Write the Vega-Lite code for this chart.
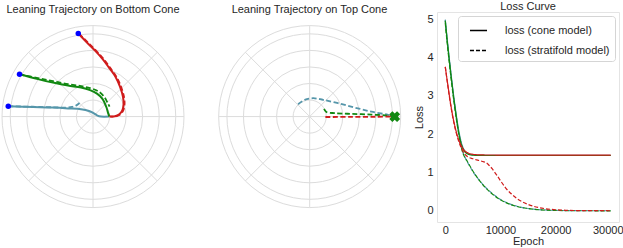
{
"$schema":"https://vega.github.io/schema/vega-lite/v6.json",
"padding":0,
"spacing":0,
"bounds":"flush",
"config":{"font":"Liberation Sans","view":{"stroke":null},
 "title":{"fontSize":11,"fontWeight":"normal","color":"#262626","font":"Liberation Sans"},
 "axis":{"domain":false,"ticks":false,"grid":false,"labelFontSize":11,"labelColor":"#262626","titleFontSize":11,"titleFontWeight":"normal","titleColor":"#262626","labelFont":"Liberation Sans","titleFont":"Liberation Sans"},
 "axisX":{"labelPadding":2,"titlePadding":0},
 "axisY":{"labelPadding":4,"titlePadding":2}
},
"datasets":{
 "rings":[{"r":0.2},{"r":0.4},{"r":0.6},{"r":0.8},{"r":1.0},{"r":1.1}],
 "spokes":[{"x":-1.1,"y":0,"x2":1.1,"y2":0},{"x":0,"y":-1.1,"x2":0,"y2":1.1},{"x":-0.778,"y":-0.778,"x2":0.778,"y2":0.778},{"x":-0.778,"y":0.778,"x2":0.778,"y2":-0.778}],
 "starts":[{"x":-0.178,"y":1.004},{"x":-0.888,"y":0.511},{"x":-1.024,"y":0.125}],
 "target":[{"x":1.028,"y":0}],
 "bottom":[
  {"p":"p3","m":"cone","i":0,"x":-1.024,"y":0.125},{"p":"p3","m":"cone","i":1,"x":-0.726,"y":0.116},{"p":"p3","m":"cone","i":2,"x":-0.492,"y":0.109},{"p":"p3","m":"cone","i":3,"x":-0.302,"y":0.099},{"p":"p3","m":"cone","i":4,"x":-0.145,"y":0.088},{"p":"p3","m":"cone","i":5,"x":-0.048,"y":0.067},{"p":"p3","m":"cone","i":6,"x":0.012,"y":0.040},{"p":"p3","m":"cone","i":7,"x":0.054,"y":0.012},{"p":"p3","m":"cone","i":8,"x":0.097,"y":0},{"p":"p3","m":"cone","i":9,"x":0.193,"y":0},
  {"p":"p3","m":"strat","i":0,"x":-1.024,"y":0.125},{"p":"p3","m":"strat","i":1,"x":-0.726,"y":0.119},{"p":"p3","m":"strat","i":2,"x":-0.484,"y":0.112},{"p":"p3","m":"strat","i":3,"x":-0.339,"y":0.109},{"p":"p3","m":"strat","i":4,"x":-0.254,"y":0.116},{"p":"p3","m":"strat","i":5,"x":-0.206,"y":0.133},{"p":"p3","m":"strat","i":6,"x":-0.162,"y":0.164},
  {"p":"p2","m":"cone","i":0,"x":-0.888,"y":0.511},{"p":"p2","m":"cone","i":1,"x":-0.665,"y":0.453},{"p":"p2","m":"cone","i":2,"x":-0.484,"y":0.411},{"p":"p2","m":"cone","i":3,"x":-0.302,"y":0.375},{"p":"p2","m":"cone","i":4,"x":-0.145,"y":0.351},{"p":"p2","m":"cone","i":5,"x":-0.036,"y":0.320},{"p":"p2","m":"cone","i":6,"x":0.048,"y":0.278},{"p":"p2","m":"cone","i":7,"x":0.112,"y":0.218},{"p":"p2","m":"cone","i":8,"x":0.161,"y":0.116},{"p":"p2","m":"cone","i":9,"x":0.185,"y":0.036},{"p":"p2","m":"cone","i":10,"x":0.2,"y":0},
  {"p":"p2","m":"strat","i":0,"x":-0.888,"y":0.511},{"p":"p2","m":"strat","i":1,"x":-0.665,"y":0.466},{"p":"p2","m":"strat","i":2,"x":-0.484,"y":0.429},{"p":"p2","m":"strat","i":3,"x":-0.302,"y":0.393},{"p":"p2","m":"strat","i":4,"x":-0.145,"y":0.369},{"p":"p2","m":"strat","i":5,"x":-0.036,"y":0.345},{"p":"p2","m":"strat","i":6,"x":0.060,"y":0.308},{"p":"p2","m":"strat","i":7,"x":0.133,"y":0.242},{"p":"p2","m":"strat","i":8,"x":0.181,"y":0.157},{"p":"p2","m":"strat","i":9,"x":0.2,"y":0.121},
  {"p":"p1","m":"cone","i":0,"x":-0.178,"y":1.004},{"p":"p1","m":"cone","i":1,"x":-0.073,"y":0.895},{"p":"p1","m":"cone","i":2,"x":0.024,"y":0.798},{"p":"p1","m":"cone","i":3,"x":0.112,"y":0.701},{"p":"p1","m":"cone","i":4,"x":0.193,"y":0.592},{"p":"p1","m":"cone","i":5,"x":0.273,"y":0.479},{"p":"p1","m":"cone","i":6,"x":0.326,"y":0.363},{"p":"p1","m":"cone","i":7,"x":0.363,"y":0.237},{"p":"p1","m":"cone","i":8,"x":0.369,"y":0.145},{"p":"p1","m":"cone","i":9,"x":0.354,"y":0.076},{"p":"p1","m":"cone","i":10,"x":0.314,"y":0.024},{"p":"p1","m":"cone","i":11,"x":0.266,"y":0.004},{"p":"p1","m":"cone","i":12,"x":0.2,"y":0},
  {"p":"p1","m":"strat","i":0,"x":-0.170,"y":1.004},{"p":"p1","m":"strat","i":1,"x":-0.062,"y":0.895},{"p":"p1","m":"strat","i":2,"x":0.036,"y":0.798},{"p":"p1","m":"strat","i":3,"x":0.124,"y":0.701},{"p":"p1","m":"strat","i":4,"x":0.205,"y":0.592},{"p":"p1","m":"strat","i":5,"x":0.285,"y":0.479},{"p":"p1","m":"strat","i":6,"x":0.338,"y":0.363},{"p":"p1","m":"strat","i":7,"x":0.375,"y":0.237},{"p":"p1","m":"strat","i":8,"x":0.381,"y":0.145},{"p":"p1","m":"strat","i":9,"x":0.366,"y":0.076},{"p":"p1","m":"strat","i":10,"x":0.326,"y":0.024},{"p":"p1","m":"strat","i":11,"x":0.276,"y":0.004},{"p":"p1","m":"strat","i":12,"x":0.21,"y":0}
 ],
 "top":[
  {"p":"p3","i":0,"x":-0.140,"y":0.150},{"p":"p3","i":1,"x":-0.060,"y":0.202},{"p":"p3","i":2,"x":0.041,"y":0.222},{"p":"p3","i":3,"x":0.162,"y":0.202},{"p":"p3","i":4,"x":0.343,"y":0.162},{"p":"p3","i":5,"x":0.544,"y":0.109},{"p":"p3","i":6,"x":0.746,"y":0.060},{"p":"p3","i":7,"x":0.948,"y":0.021},{"p":"p3","i":8,"x":1.028,"y":0},
  {"p":"p2","i":0,"x":0.174,"y":0.093},{"p":"p2","i":1,"x":0.202,"y":0.056},{"p":"p2","i":2,"x":0.302,"y":0.041},{"p":"p2","i":3,"x":0.504,"y":0.033},{"p":"p2","i":4,"x":0.746,"y":0.024},{"p":"p2","i":5,"x":0.948,"y":0.012},{"p":"p2","i":6,"x":1.028,"y":0},
  {"p":"p1","i":0,"x":0.19,"y":-0.005},{"p":"p1","i":1,"x":0.5,"y":-0.004},{"p":"p1","i":2,"x":0.8,"y":-0.002},{"p":"p1","i":3,"x":1.028,"y":0}
 ],
 "loss":[
  {"p":"p3","m":"loss (cone model)","e":0,"v":4.99},{"p":"p3","m":"loss (cone model)","e":250,"v":4.62},{"p":"p3","m":"loss (cone model)","e":500,"v":4.28},{"p":"p3","m":"loss (cone model)","e":1000,"v":3.63},{"p":"p3","m":"loss (cone model)","e":1500,"v":3.03},{"p":"p3","m":"loss (cone model)","e":2000,"v":2.5},{"p":"p3","m":"loss (cone model)","e":2500,"v":2.05},{"p":"p3","m":"loss (cone model)","e":3000,"v":1.74},{"p":"p3","m":"loss (cone model)","e":3500,"v":1.57},{"p":"p3","m":"loss (cone model)","e":4000,"v":1.5},{"p":"p3","m":"loss (cone model)","e":5000,"v":1.46},{"p":"p3","m":"loss (cone model)","e":6000,"v":1.452},{"p":"p3","m":"loss (cone model)","e":10000,"v":1.45},{"p":"p3","m":"loss (cone model)","e":20000,"v":1.45},{"p":"p3","m":"loss (cone model)","e":30000,"v":1.45},
  {"p":"p3","m":"loss (stratifold model)","e":0,"v":4.97},{"p":"p3","m":"loss (stratifold model)","e":250,"v":4.6},{"p":"p3","m":"loss (stratifold model)","e":500,"v":4.25},{"p":"p3","m":"loss (stratifold model)","e":1000,"v":3.6},{"p":"p3","m":"loss (stratifold model)","e":1500,"v":3.0},{"p":"p3","m":"loss (stratifold model)","e":2000,"v":2.45},{"p":"p3","m":"loss (stratifold model)","e":2500,"v":2.0},{"p":"p3","m":"loss (stratifold model)","e":3000,"v":1.62},{"p":"p3","m":"loss (stratifold model)","e":3500,"v":1.42},{"p":"p3","m":"loss (stratifold model)","e":4000,"v":1.28},{"p":"p3","m":"loss (stratifold model)","e":5000,"v":1.03},{"p":"p3","m":"loss (stratifold model)","e":6000,"v":0.83},{"p":"p3","m":"loss (stratifold model)","e":7000,"v":0.66},{"p":"p3","m":"loss (stratifold model)","e":8000,"v":0.52},{"p":"p3","m":"loss (stratifold model)","e":9000,"v":0.4},{"p":"p3","m":"loss (stratifold model)","e":10000,"v":0.3},{"p":"p3","m":"loss (stratifold model)","e":11000,"v":0.225},{"p":"p3","m":"loss (stratifold model)","e":12000,"v":0.165},{"p":"p3","m":"loss (stratifold model)","e":13000,"v":0.12},{"p":"p3","m":"loss (stratifold model)","e":14000,"v":0.087},{"p":"p3","m":"loss (stratifold model)","e":15000,"v":0.062},{"p":"p3","m":"loss (stratifold model)","e":16000,"v":0.045},{"p":"p3","m":"loss (stratifold model)","e":18000,"v":0.024},{"p":"p3","m":"loss (stratifold model)","e":20000,"v":0.013},{"p":"p3","m":"loss (stratifold model)","e":25000,"v":0.005},{"p":"p3","m":"loss (stratifold model)","e":30000,"v":0.003},
  {"p":"p2","m":"loss (cone model)","e":0,"v":4.96},{"p":"p2","m":"loss (cone model)","e":250,"v":4.58},{"p":"p2","m":"loss (cone model)","e":500,"v":4.23},{"p":"p2","m":"loss (cone model)","e":1000,"v":3.58},{"p":"p2","m":"loss (cone model)","e":1500,"v":2.98},{"p":"p2","m":"loss (cone model)","e":2000,"v":2.45},{"p":"p2","m":"loss (cone model)","e":2500,"v":2.0},{"p":"p2","m":"loss (cone model)","e":3000,"v":1.7},{"p":"p2","m":"loss (cone model)","e":3500,"v":1.55},{"p":"p2","m":"loss (cone model)","e":4000,"v":1.49},{"p":"p2","m":"loss (cone model)","e":5000,"v":1.455},{"p":"p2","m":"loss (cone model)","e":6000,"v":1.447},{"p":"p2","m":"loss (cone model)","e":10000,"v":1.445},{"p":"p2","m":"loss (cone model)","e":20000,"v":1.445},{"p":"p2","m":"loss (cone model)","e":30000,"v":1.445},
  {"p":"p2","m":"loss (stratifold model)","e":0,"v":4.9},{"p":"p2","m":"loss (stratifold model)","e":250,"v":4.52},{"p":"p2","m":"loss (stratifold model)","e":500,"v":4.17},{"p":"p2","m":"loss (stratifold model)","e":1000,"v":3.52},{"p":"p2","m":"loss (stratifold model)","e":1500,"v":2.93},{"p":"p2","m":"loss (stratifold model)","e":2000,"v":2.4},{"p":"p2","m":"loss (stratifold model)","e":2500,"v":1.95},{"p":"p2","m":"loss (stratifold model)","e":3000,"v":1.6},{"p":"p2","m":"loss (stratifold model)","e":3500,"v":1.41},{"p":"p2","m":"loss (stratifold model)","e":4000,"v":1.29},{"p":"p2","m":"loss (stratifold model)","e":5000,"v":1.04},{"p":"p2","m":"loss (stratifold model)","e":6000,"v":0.83},{"p":"p2","m":"loss (stratifold model)","e":7000,"v":0.65},{"p":"p2","m":"loss (stratifold model)","e":8000,"v":0.505},{"p":"p2","m":"loss (stratifold model)","e":9000,"v":0.385},{"p":"p2","m":"loss (stratifold model)","e":10000,"v":0.29},{"p":"p2","m":"loss (stratifold model)","e":11000,"v":0.215},{"p":"p2","m":"loss (stratifold model)","e":12000,"v":0.158},{"p":"p2","m":"loss (stratifold model)","e":13000,"v":0.115},{"p":"p2","m":"loss (stratifold model)","e":14000,"v":0.083},{"p":"p2","m":"loss (stratifold model)","e":15000,"v":0.06},{"p":"p2","m":"loss (stratifold model)","e":16000,"v":0.043},{"p":"p2","m":"loss (stratifold model)","e":18000,"v":0.022},{"p":"p2","m":"loss (stratifold model)","e":20000,"v":0.012},{"p":"p2","m":"loss (stratifold model)","e":25000,"v":0.004},{"p":"p2","m":"loss (stratifold model)","e":30000,"v":0.002},
  {"p":"p1","m":"loss (cone model)","e":0,"v":3.76},{"p":"p1","m":"loss (cone model)","e":250,"v":3.5},{"p":"p1","m":"loss (cone model)","e":500,"v":3.25},{"p":"p1","m":"loss (cone model)","e":1000,"v":2.77},{"p":"p1","m":"loss (cone model)","e":1500,"v":2.37},{"p":"p1","m":"loss (cone model)","e":2000,"v":2.06},{"p":"p1","m":"loss (cone model)","e":2500,"v":1.83},{"p":"p1","m":"loss (cone model)","e":3000,"v":1.67},{"p":"p1","m":"loss (cone model)","e":3500,"v":1.57},{"p":"p1","m":"loss (cone model)","e":4000,"v":1.52},{"p":"p1","m":"loss (cone model)","e":5000,"v":1.475},{"p":"p1","m":"loss (cone model)","e":6000,"v":1.463},{"p":"p1","m":"loss (cone model)","e":8000,"v":1.458},{"p":"p1","m":"loss (cone model)","e":15000,"v":1.457},{"p":"p1","m":"loss (cone model)","e":30000,"v":1.457},
  {"p":"p1","m":"loss (stratifold model)","e":0,"v":3.76},{"p":"p1","m":"loss (stratifold model)","e":250,"v":3.49},{"p":"p1","m":"loss (stratifold model)","e":500,"v":3.23},{"p":"p1","m":"loss (stratifold model)","e":1000,"v":2.74},{"p":"p1","m":"loss (stratifold model)","e":1500,"v":2.34},{"p":"p1","m":"loss (stratifold model)","e":2000,"v":2.03},{"p":"p1","m":"loss (stratifold model)","e":2500,"v":1.79},{"p":"p1","m":"loss (stratifold model)","e":3000,"v":1.61},{"p":"p1","m":"loss (stratifold model)","e":3500,"v":1.49},{"p":"p1","m":"loss (stratifold model)","e":4000,"v":1.42},{"p":"p1","m":"loss (stratifold model)","e":5000,"v":1.36},{"p":"p1","m":"loss (stratifold model)","e":6000,"v":1.32},{"p":"p1","m":"loss (stratifold model)","e":7000,"v":1.28},{"p":"p1","m":"loss (stratifold model)","e":7500,"v":1.25},{"p":"p1","m":"loss (stratifold model)","e":8000,"v":1.18},{"p":"p1","m":"loss (stratifold model)","e":8500,"v":1.1},{"p":"p1","m":"loss (stratifold model)","e":9000,"v":1.0},{"p":"p1","m":"loss (stratifold model)","e":9500,"v":0.9},{"p":"p1","m":"loss (stratifold model)","e":10000,"v":0.79},{"p":"p1","m":"loss (stratifold model)","e":11000,"v":0.59},{"p":"p1","m":"loss (stratifold model)","e":12000,"v":0.44},{"p":"p1","m":"loss (stratifold model)","e":13000,"v":0.32},{"p":"p1","m":"loss (stratifold model)","e":14000,"v":0.235},{"p":"p1","m":"loss (stratifold model)","e":15000,"v":0.17},{"p":"p1","m":"loss (stratifold model)","e":16000,"v":0.12},{"p":"p1","m":"loss (stratifold model)","e":17000,"v":0.085},{"p":"p1","m":"loss (stratifold model)","e":18000,"v":0.06},{"p":"p1","m":"loss (stratifold model)","e":20000,"v":0.03},{"p":"p1","m":"loss (stratifold model)","e":22000,"v":0.015},{"p":"p1","m":"loss (stratifold model)","e":25000,"v":0.007},{"p":"p1","m":"loss (stratifold model)","e":30000,"v":0.004}
 ]
},
"resolve":{"scale":{"x":"independent","y":"independent","size":"independent","color":"independent","strokeDash":"independent"},"legend":{"strokeDash":"independent","color":"independent","size":"independent"}},
"hconcat":[
 {"width":182,"height":210,
  "title":{"text":"Leaning Trajectory on Bottom Cone","offset":-3},
  "layer":[
   {"data":{"name":"rings"},"mark":{"type":"point","shape":"circle","filled":false,"color":"#dcdcdc","strokeWidth":1,"opacity":1},
    "encoding":{"x":{"datum":0,"type":"quantitative","scale":{"domain":[-1.1,1.1],"nice":false,"zero":false},"axis":null},
     "y":{"datum":0,"type":"quantitative","scale":{"domain":[-1.274,1.264],"nice":false,"zero":false},"axis":null},
     "size":{"field":"r","type":"quantitative","scale":{"type":"pow","exponent":2,"domain":[0,1.1],"range":[0,33124]},"legend":null}}},
   {"data":{"name":"spokes"},"mark":{"type":"rule","color":"#dcdcdc","strokeWidth":1},
    "encoding":{"x":{"field":"x","type":"quantitative"},"y":{"field":"y","type":"quantitative"},"x2":{"field":"x2"},"y2":{"field":"y2"}}},
   {"data":{"name":"bottom"},"transform":[{"filter":"datum.m == 'cone'"}],"mark":{"type":"line","strokeWidth":2,"interpolate":"catmull-rom"},
    "encoding":{"x":{"field":"x","type":"quantitative"},"y":{"field":"y","type":"quantitative"},"order":{"field":"i","type":"quantitative"},
     "color":{"field":"p","type":"nominal","scale":{"domain":["p1","p2","p3"],"range":["#d01c1c","#118811","#5596aa"]},"legend":null}}},
   {"data":{"name":"bottom"},"transform":[{"filter":"datum.m == 'strat'"}],"mark":{"type":"line","strokeWidth":1.8,"strokeDash":[5,2.5],"interpolate":"catmull-rom"},
    "encoding":{"x":{"field":"x","type":"quantitative"},"y":{"field":"y","type":"quantitative"},"order":{"field":"i","type":"quantitative"},
     "color":{"field":"p","type":"nominal","legend":null}}},
   {"data":{"name":"starts"},"mark":{"type":"point","shape":"circle","filled":true,"color":"#0000ff","size":30,"opacity":1},
    "encoding":{"x":{"field":"x","type":"quantitative"},"y":{"field":"y","type":"quantitative"}}}
  ]},
 {"width":253,"height":210,
  "title":{"text":"Leaning Trajectory on Top Cone","offset":-3,"anchor":"middle","dx":-1},
  "layer":[
   {"data":{"name":"rings"},"mark":{"type":"point","shape":"circle","filled":false,"color":"#dcdcdc","strokeWidth":1,"opacity":1},
    "encoding":{"x":{"datum":0,"type":"quantitative","scale":{"domain":[-1.519,1.539],"nice":false,"zero":false},"axis":null},
     "y":{"datum":0,"type":"quantitative","scale":{"domain":[-1.274,1.264],"nice":false,"zero":false},"axis":null},
     "size":{"field":"r","type":"quantitative","scale":{"type":"pow","exponent":2,"domain":[0,1.1],"range":[0,33124]},"legend":null}}},
   {"data":{"name":"spokes"},"mark":{"type":"rule","color":"#dcdcdc","strokeWidth":1},
    "encoding":{"x":{"field":"x","type":"quantitative"},"y":{"field":"y","type":"quantitative"},"x2":{"field":"x2"},"y2":{"field":"y2"}}},
   {"data":{"name":"top"},"mark":{"type":"line","strokeWidth":1.8,"strokeDash":[5,2.5],"interpolate":"catmull-rom"},
    "encoding":{"x":{"field":"x","type":"quantitative"},"y":{"field":"y","type":"quantitative"},"order":{"field":"i","type":"quantitative"},
     "color":{"field":"p","type":"nominal","scale":{"domain":["p1","p2","p3"],"range":["#d01c1c","#118811","#5596aa"]},"legend":null}}},
   {"data":{"name":"target"},"mark":{"type":"point","shape":"cross","angle":45,"filled":true,"color":"#118811","size":120,"opacity":1},
    "encoding":{"x":{"field":"x","type":"quantitative"},"y":{"field":"y","type":"quantitative"}}}
  ]},
 {"width":182,"height":210,
  "title":{"text":"Loss Curve","offset":0},
  "view":{"stroke":"#e4e4e4"},
  "data":{"name":"loss"},
  "mark":{"type":"line","strokeWidth":1.2,"interpolate":"monotone"},
  "encoding":{
   "x":{"field":"e","type":"quantitative","scale":{"domain":[-1500,31500],"nice":false,"zero":false},"axis":{"values":[0,10000,20000,30000],"format":"d","title":"Epoch","labelOffset":{"condition":{"test":"datum.value == 30000","value":-3},"value":0}}},
   "y":{"field":"v","type":"quantitative","scale":{"domain":[-0.29,5.19],"nice":false,"zero":false},"axis":{"values":[0,1,2,3,4,5],"title":"Loss"}},
   "color":{"field":"p","type":"nominal","scale":{"domain":["p1","p2","p3"],"range":["#d01c1c","#118811","#5596aa"]},"legend":null},
   "strokeDash":{"field":"m","type":"nominal","scale":{"domain":["loss (cone model)","loss (stratifold model)"],"range":[[1,0],[4,2]]},
    "legend":{"title":null,"orient":"none","legendX":21,"legendY":4,"padding":5,"fillColor":"white","strokeColor":"#d5d5d5","cornerRadius":3,"symbolType":"stroke","symbolSize":290,"symbolStrokeWidth":1.5,"symbolStrokeColor":"black","symbolOffset":6,"labelOffset":17,"labelFontSize":11,"labelColor":"#262626","rowPadding":5,"labelFont":"Liberation Sans"}}
  }}
]
}
